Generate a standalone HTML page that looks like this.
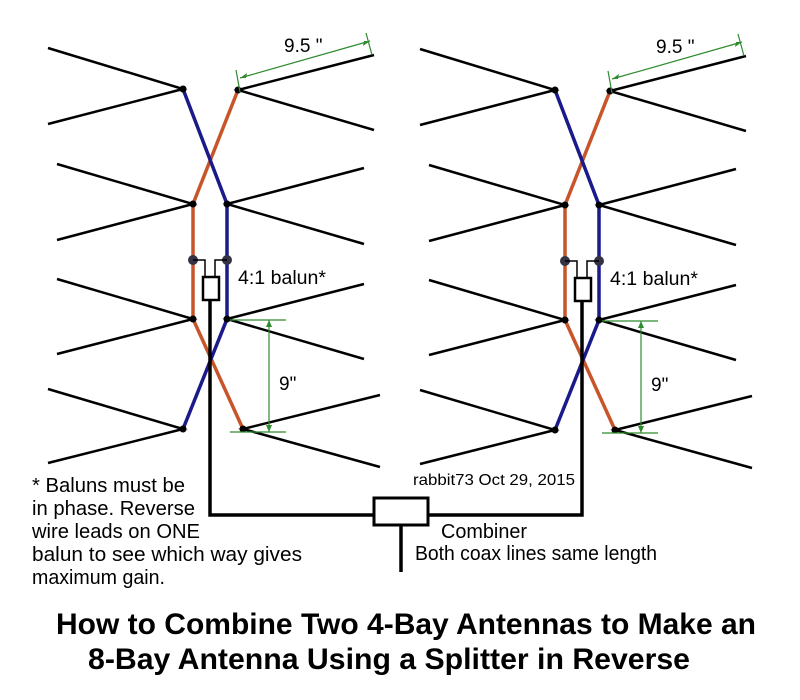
<!DOCTYPE html>
<html><head><meta charset="utf-8"><style>
html,body{margin:0;padding:0;background:#fff;}
svg{display:block;font-family:"Liberation Sans",sans-serif;}
</style></head><body>
<svg width="800" height="700" viewBox="0 0 800 700" xmlns="http://www.w3.org/2000/svg">
<rect width="800" height="700" fill="#fff"/>
<defs>
<g id="ant">
 <g stroke="#000" stroke-width="2.5" fill="none">
  <path d="M48,48 L183,89 L48,124"/>
  <path d="M374,55 L238,90 L374,130"/>
  <path d="M57,164 L193,204 L57,240"/>
  <path d="M364,168 L227,204 L364,244"/>
  <path d="M57,279 L193,319 L57,354"/>
  <path d="M364,284 L227,319 L364,359"/>
  <path d="M48,389 L183,429 L48,463"/>
  <path d="M380,395 L243,429 L380,467"/>
 </g>
 <path d="M238,90 L193,204 L193,319 L243,429" stroke="#c8552a" stroke-width="3.5" fill="none"/>
 <path d="M183,89 L227,204 L227,319 L183,429" stroke="#1a1a8a" stroke-width="3.5" fill="none"/>
 <g fill="#000">
  <circle cx="183" cy="89" r="3.5"/><circle cx="238" cy="90" r="3.5"/>
  <circle cx="193" cy="204" r="3.5"/><circle cx="227" cy="204" r="3.5"/>
  <circle cx="193" cy="319" r="3.5"/><circle cx="227" cy="319" r="3.5"/>
  <circle cx="183" cy="429" r="3.5"/><circle cx="243" cy="429" r="3.5"/>
 </g>
 <circle cx="193" cy="260" r="5" fill="#334"/><circle cx="227" cy="260" r="5" fill="#334"/>
 <path d="M193,260 H205 V277 M227,260 H215 V277" stroke="#000" stroke-width="1.5" fill="none"/>
 <rect x="203" y="277" width="16" height="23" fill="#fff" stroke="#000" stroke-width="2.5"/>
 <g stroke="#2e8b2e" stroke-width="1.2" fill="none">
  <path d="M240,78 L370,41"/>
  <path d="M236,70 L240,92 M366,33 L372,55"/>
  <path d="M230,320 H286 M230,432 H286 M269,320 V432"/>
 </g>
 <path d="M240,78 l7,-5 l-1,5z M370,41 l-7,5 l1,-5z M269,320 l-3,7 h6z M269,432 l-3,-7 h6z" fill="#2e8b2e"/>
 <text x="284" y="52" font-size="19">9.5 "</text>
 <text x="279" y="390" font-size="19">9"</text>
 <text x="238" y="284" font-size="19" textLength="88" lengthAdjust="spacingAndGlyphs">4:1 balun*</text>
</g>
</defs>
<use href="#ant"/>
<use href="#ant" transform="translate(372,1)"/>
<path d="M210,300 V515 H582 V301" stroke="#000" stroke-width="3.5" fill="none"/>
<rect x="374" y="498" width="54" height="27" fill="#fff" stroke="#000" stroke-width="3"/>
<path d="M401,525 V572" stroke="#000" stroke-width="3.5"/>
<text x="413" y="485" font-size="16" textLength="162" lengthAdjust="spacingAndGlyphs">rabbit73  Oct 29, 2015</text>
<g font-size="20">
<text x="32" y="492" textLength="153" lengthAdjust="spacingAndGlyphs">* Baluns must be</text>
<text x="32" y="515" textLength="163" lengthAdjust="spacingAndGlyphs">in phase. Reverse</text>
<text x="32" y="538" textLength="168" lengthAdjust="spacingAndGlyphs">wire leads on ONE</text>
<text x="32" y="561" textLength="270" lengthAdjust="spacingAndGlyphs">balun to see which way gives</text>
<text x="32" y="584" textLength="133" lengthAdjust="spacingAndGlyphs">maximum gain.</text>
<text x="441" y="538" textLength="86" lengthAdjust="spacingAndGlyphs">Combiner</text>
<text x="415" y="560" textLength="242" lengthAdjust="spacingAndGlyphs">Both coax lines same length</text>
</g>
<g font-size="30" font-weight="bold">
<text x="56" y="634" textLength="700" lengthAdjust="spacingAndGlyphs">How to Combine Two 4-Bay Antennas to Make an</text>
<text x="88" y="669" textLength="602" lengthAdjust="spacingAndGlyphs">8-Bay Antenna Using a Splitter in Reverse</text>
</g>
</svg>
</body></html>
